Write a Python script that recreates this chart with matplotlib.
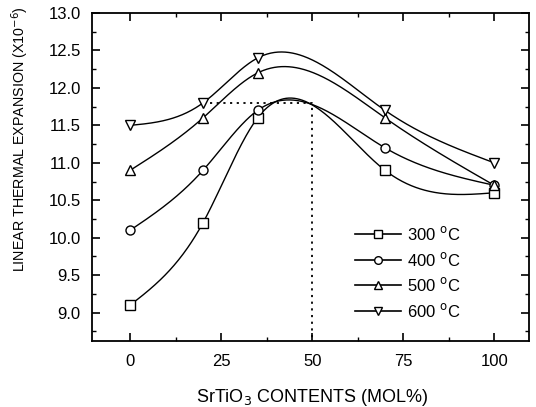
#!/usr/bin/env python3

import numpy as np
import matplotlib
matplotlib.use('Agg')
import matplotlib.pyplot as plt
from matplotlib.ticker import MultipleLocator

plt.rcParams['font.family'] = ['Liberation Sans', 'DejaVu Sans']

contents = [0, 20, 35, 70, 100]
exp_300 = [9.1, 10.2, 11.6, 10.9, 10.6]
exp_400 = [10.1, 10.9, 11.7, 11.2, 10.7]
exp_500 = [10.9, 11.6, 12.2, 11.6, 10.7]
exp_600 = [11.5, 11.8, 12.4, 11.7, 11.0]

labels = ['300 $^\\mathrm{o}$C', '400 $^\\mathrm{o}$C',
          '500 $^\\mathrm{o}$C', '600 $^\\mathrm{o}$C']
markers = ['s', 'o', '^', 'v']

# dotted guide line
guide_x = [22, 50, 50]
guide_y = [11.8, 11.8, 8.6]

def spline(x, y, xs):
    # natural cubic spline, just for drawing the smooth curve
    x = np.asarray(x, float)
    y = np.asarray(y, float)
    n = len(x)
    h = np.diff(x)
    A = np.zeros((n, n))
    b = np.zeros(n)
    A[0, 0] = 1
    A[-1, -1] = 1
    for i in range(1, n - 1):
        A[i, i - 1] = h[i - 1]
        A[i, i] = 2 * (h[i - 1] + h[i])
        A[i, i + 1] = h[i]
        b[i] = 6 * ((y[i + 1] - y[i]) / h[i] - (y[i] - y[i - 1]) / h[i - 1])
    m = np.linalg.solve(A, b)
    out = np.zeros_like(xs, dtype=float)
    for k, xv in enumerate(xs):
        i = min(max(np.searchsorted(x, xv) - 1, 0), n - 2)
        t = xv - x[i]
        a = (m[i + 1] - m[i]) / (6 * h[i])
        c = (y[i + 1] - y[i]) / h[i] - h[i] * (2 * m[i] + m[i + 1]) / 6
        out[k] = y[i] + c * t + m[i] / 2 * t ** 2 + a * t ** 3
    return out

fig = plt.figure(figsize=(5.36, 4.07), dpi=100)
ax = fig.add_axes([0.1716, 0.162, 0.815, 0.806])

xs = np.linspace(0, 100, 400)
for ys, lab, mk in zip([exp_300, exp_400, exp_500, exp_600], labels, markers):
    ax.plot(xs, spline(contents, ys, xs), color='black', lw=1.0, zorder=2)
    ax.plot(contents, ys, linestyle='none', marker=mk, ms=6.5, mfc='white',
            mec='black', mew=1.0, zorder=3)
    ax.plot([], [], color='black', lw=1.2, marker=mk, ms=5.5, mfc='white',
            mec='black', label=lab)

ax.plot(guide_x, guide_y, color='black', lw=1.3, linestyle=(0, (1.2, 2.5)), zorder=1)

ax.set_xlim(-10.5, 109.5)
ax.set_ylim(8.62, 13.0)
ax.xaxis.set_major_locator(MultipleLocator(25))
ax.xaxis.set_minor_locator(MultipleLocator(12.5))
ax.yaxis.set_major_locator(MultipleLocator(0.5))
ax.yaxis.set_minor_locator(MultipleLocator(0.25))
ax.tick_params(which='both', direction='in', top=True, right=True, labelsize=12)
ax.tick_params(which='major', length=6, width=1.2)
ax.tick_params(axis='x', which='major', pad=9)
ax.tick_params(axis='y', which='major', pad=8)
ax.tick_params(which='minor', length=3, width=1.0)
ax.yaxis.set_major_formatter(plt.FormatStrFormatter('%.1f'))
for s in ax.spines.values():
    s.set_linewidth(1.3)

ax.set_xlabel('SrTiO$_3$ CONTENTS (MOL%)', fontsize=13)
ax.set_ylabel('LINEAR THERMAL EXPANSION (X10$^{-6}$)', fontsize=10.3)
ax.xaxis.set_label_coords(0.505, -0.14)
ax.yaxis.set_label_coords(-0.14, 0.615)

ax.legend(loc='lower right', bbox_to_anchor=(0.878, 0.02), frameon=False,
          fontsize=12, handlelength=2.8, handletextpad=0.35, labelspacing=0.45)

fig.savefig('out.png', dpi=100)
